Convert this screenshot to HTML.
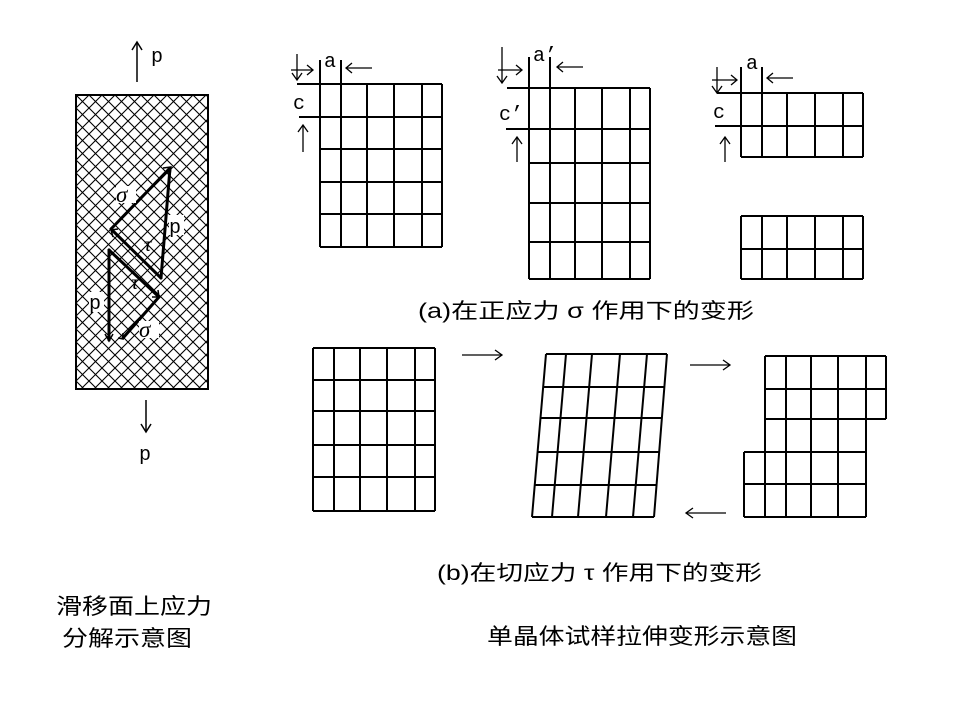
<!DOCTYPE html>
<html><head><meta charset="utf-8"><style>
html,body{margin:0;padding:0;background:#fff;}
svg{display:block;}
text{font-family:"Liberation Serif","Noto Sans CJK SC",serif;fill:#000;}
.cjk{font-family:"Liberation Sans","Noto Sans CJK SC",sans-serif;}
.m{font-family:"Liberation Mono",monospace;font-size:20px;}
</style></head><body>
<svg width="960" height="720" viewBox="0 0 960 720" xmlns="http://www.w3.org/2000/svg">
<defs>
<pattern id="hatch" width="13" height="13" patternUnits="userSpaceOnUse" x="76" y="95">
<path d="M0,0 L13,13 M13,0 L0,13 M-1,12 L1,14 M12,-1 L14,1 M-1,1 L1,-1 M12,14 L14,12" stroke="#000" stroke-width="1.1"/>
</pattern>
</defs>
<rect x="0" y="0" width="960" height="720" fill="#fff"/>

<rect x="76" y="95" width="132" height="294" fill="url(#hatch)" stroke="#000" stroke-width="2"/>
<g stroke="#000" stroke-width="1.5" fill="none">
<line x1="137" y1="42" x2="137" y2="82"/><path d="M132,50 L137,42 L142,50"/>
<line x1="146" y1="400" x2="146" y2="432"/><path d="M141,424 L146,432 L151,424"/>
</g>
<text x="151" y="62" class="m">p</text>
<text x="139" y="460" class="m">p</text>

<g stroke="#000" stroke-width="3" fill="none" stroke-linecap="round">
<line x1="111" y1="229" x2="170" y2="168"/>
<line x1="170" y1="168" x2="161" y2="278"/>
<line x1="111" y1="229" x2="161" y2="278"/>
<line x1="109" y1="250" x2="109" y2="340"/>
<line x1="109" y1="250" x2="159" y2="297"/>
<line x1="159" y1="297" x2="123" y2="338"/>
</g>
<g stroke="#000" stroke-width="1.5" fill="none">
<path d="M163,168 L171,167 L170,175"/>
<path d="M118,229 L111,230 L113,237"/>
<path d="M152,297 L159,297 L158,290"/>
<path d="M118,338 L123,339 L123,333"/>
<path d="M105,334 L109,341 L113,334"/>
</g>
<rect x="116" y="186" width="20" height="17" fill="#fff"/>
<text x="116" y="202" font-size="23" font-style="italic">σ</text>
<rect x="169" y="215" width="15" height="20" fill="#fff"/>
<text x="169" y="233" class="m">p</text>
<text x="144" y="251" font-size="21" font-style="italic">τ</text>
<text x="131" y="289" font-size="21" font-style="italic">τ</text>
<rect x="89" y="292" width="15" height="20" fill="#fff"/>
<text x="89" y="309" class="m">p</text>
<rect x="139" y="321" width="20" height="17" fill="#fff"/>
<text x="139" y="337" font-size="23" font-style="italic">σ</text>

<g stroke="#000" stroke-width="2" fill="none">
<path d="M320,84 V247 M341,84 V247 M367,84 V247 M394,84 V247 M422,84 V247 M442,84 V247"/>
<path d="M320,84 H442 M320,117 H442 M320,149 H442 M320,182 H442 M320,214 H442 M320,247 H442"/>
<path d="M320,60 V84 M341,60 V84 M297,84 H320 M299,117 H320"/>
</g>
<g stroke="#000" stroke-width="1.3" fill="none">
<line x1="346" y1="68" x2="372" y2="68"/><path d="M352,63 L346,68 L352,73"/>
<line x1="297" y1="54" x2="297" y2="80"/><path d="M292,73 L297,80 L302,73"/>
<line x1="291" y1="70" x2="313" y2="70"/><path d="M307,65 L313,70 L307,75"/>
<line x1="303" y1="125" x2="303" y2="152"/><path d="M298,132 L303,125 L308,132"/>
</g>
<text x="324" y="67" class="m">a</text>
<text x="293" y="109" class="m">c</text>

<g stroke="#000" stroke-width="2" fill="none">
<path d="M529,88 V279 M550,88 V279 M575,88 V279 M602,88 V279 M630,88 V279 M650,88 V279"/>
<path d="M529,88 H650 M529,129 H650 M529,163 H650 M529,203 H650 M529,242 H650 M529,279 H650"/>
<path d="M529,57 V88 M550,57 V88 M507,88 H529 M506,129 H529"/>
</g>
<g stroke="#000" stroke-width="1.3" fill="none">
<line x1="557" y1="67" x2="583" y2="67"/><path d="M563,62 L557,67 L563,72"/>
<line x1="502" y1="47" x2="502" y2="83"/><path d="M497,76 L502,83 L507,76"/>
<line x1="498" y1="70" x2="522" y2="70"/><path d="M516,65 L522,70 L516,75"/>
<line x1="517" y1="137" x2="517" y2="162"/><path d="M512,144 L517,137 L522,144"/>
</g>
<text x="533" y="61" class="m">a’</text>
<text x="499" y="120" class="m">c’</text>

<g stroke="#000" stroke-width="2" fill="none">
<path d="M741,93 V157 M762,93 V157 M787,93 V157 M815,93 V157 M843,93 V157 M863,93 V157"/>
<path d="M717,93 H863 M715,126 H863 M741,157 H863"/>
<path d="M741,67 V93 M762,67 V93"/>
<path d="M741,216 V279 M762,216 V279 M787,216 V279 M815,216 V279 M843,216 V279 M863,216 V279"/>
<path d="M741,216 H863 M741,249 H863 M741,279 H863"/>
</g>
<g stroke="#000" stroke-width="1.3" fill="none">
<line x1="767" y1="78" x2="793" y2="78"/><path d="M773,73 L767,78 L773,83"/>
<line x1="717" y1="67" x2="717" y2="93"/><path d="M712,86 L717,93 L722,86"/>
<line x1="712" y1="80" x2="737" y2="80"/><path d="M731,75 L737,80 L731,85"/>
<line x1="725" y1="137" x2="725" y2="162"/><path d="M720,144 L725,137 L730,144"/>
</g>
<text x="746" y="69" class="m">a</text>
<text x="713" y="118" class="m">c</text>

<text class="cjk" x="418" y="318" font-size="21" textLength="336" lengthAdjust="spacingAndGlyphs">(a)在正应力 σ 作用下的变形</text>

<g stroke="#000" stroke-width="2" fill="none">
<path d="M313,348 V511 M334,348 V511 M360,348 V511 M387,348 V511 M415,348 V511 M435,348 V511"/>
<path d="M313,348 H435 M313,380 H435 M313,411 H435 M313,445 H435 M313,477 H435 M313,511 H435"/>
</g>
<g stroke="#000" stroke-width="1.3" fill="none">
<line x1="462" y1="355" x2="502" y2="355"/><path d="M495,350 L502,355 L495,360"/>
<line x1="690" y1="365" x2="730" y2="365"/><path d="M723,360 L730,365 L723,370"/>
<line x1="686" y1="513" x2="726" y2="513"/><path d="M693,508 L686,513 L693,518"/>
</g>

<g stroke="#000" stroke-width="2" fill="none">
<path d="M546,354 H667 M543,387 H665 M540,418 H662 M537,452 H660 M534,485 H657 M532,517 H654"/>
<path d="M546,354 L532,517 M566,354 L552,517 M592,354 L578,517 M620,354 L606,517 M647,354 L633,517 M667,354 L654,517"/>
</g>

<g stroke="#000" stroke-width="2" fill="none">
<path d="M765,356 H886 M765,389 H886 M765,419 H886 M744,452 H866 M744,484 H866 M744,517 H866"/>
<path d="M765,356 V517 M786,356 V517 M811,356 V517 M838,356 V517 M866,356 V517 M886,356 V419 M744,452 V517"/>
</g>

<text class="cjk" x="437" y="580" font-size="21" textLength="325" lengthAdjust="spacingAndGlyphs">(b)在切应力 τ 作用下的变形</text>
<text class="cjk" x="56" y="614" font-size="22" textLength="156" lengthAdjust="spacingAndGlyphs">滑移面上应力</text>
<text class="cjk" x="62" y="646" font-size="22" textLength="130" lengthAdjust="spacingAndGlyphs">分解示意图</text>
<text class="cjk" x="487" y="644" font-size="22" textLength="310" lengthAdjust="spacingAndGlyphs">单晶体试样拉伸变形示意图</text>
</svg>
</body></html>
